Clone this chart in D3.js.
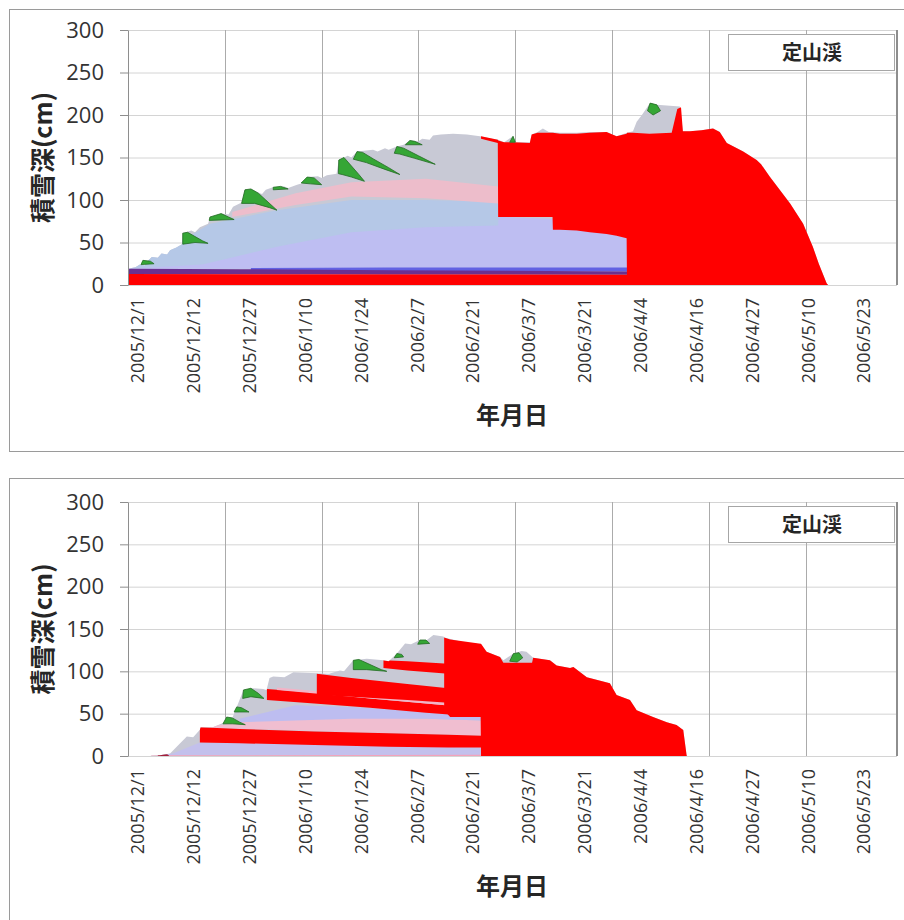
<!DOCTYPE html>
<html>
<head>
<meta charset="utf-8">
<script src="https://cdn.jsdelivr.net/npm/d3@7"></script>
<style>
  body { margin: 0; background: #fff; }
  text { font-family: "Open Sans", "Liberation Sans", sans-serif; }
  .cjk { font-family: "Noto Sans CJK JP", sans-serif; font-weight: bold; }
</style>
</head>
<body>
<script>
// axis labels (category axis, one label every 15 steps)
var dateLabels = ["2005/12/1", "2005/12/12", "2005/12/27", "2006/1/10", "2006/1/24", "2006/2/7",
  "2006/2/21", "2006/3/7", "2006/3/21", "2006/4/4", "2006/4/16", "2006/4/27", "2006/5/10", "2006/5/23"];
var labelSteps = [2.5, 17.5, 32.5, 47.5, 62.5, 77.5, 92.5, 107.5, 122.5, 137.5, 152.5, 167.5, 182.5, 197.5];
var gridSteps = [26, 52, 78, 104, 130, 156, 182];
var depthTicks = [0, 50, 100, 150, 200, 250, 300];
var stationName = "定山渓";

// ---------- upper chart : [step, depth cm] ----------
var upperDepth = [[0,19],[2,21],[3.2,24],[4.5,23],[5,27],[6.4,33],[8,32],[9,37],[10.5,36],[11.3,41],
  [13,44],[14.5,48],[14.7,61],[17,64],[18,62],[19.3,68],[21.5,72],[22,79],[24,78],[25,84],[27,83],
  [28.2,92],[30.5,97],[31.4,112],[33,113],[35.4,108],[36,107],[37,112],[38.9,115],[42,116],[43,114],
  [45.4,118],[47,120],[48.1,127],[51,128],[52,126],[53.4,129],[56,131],[56.6,147],[59,152],[60,150],
  [61.5,157],[65.8,159],[67,157],[69,161],[70,159],[72.2,163],[74,165],[75.7,170],[78,169],[79,172],
  [81,171],[81.9,176],[84,177],[87.3,178],[91,177],[94.5,175],[99.4,171],[101,168],[103.4,175],[104,168],
  [107.9,168],[108.4,177],[110,180],[111.4,184],[113,180],[116,179],[120.5,179],[124,180],[128.5,180],
  [131.2,175],[134,179],[135.6,181],[136.6,192],[138,200],[140.2,214],[142,212],[148.2,210],[149,181],
  [150.9,181],[154,182],[157.1,184],[158.9,180],[160.8,167],[163,162],[165.2,157],[168.8,147],[170,142],
  [172.4,127],[175,112],[177.8,96],[181.3,72],[183.9,45],[185.5,25],[187.6,2],[188,0]];

// layers : [step, bottom cm, top cm]
var upperLightBlue = [[0,19,30],[10,19,40],[22,19,72],[40,19,88],[60,19,100],[80,19,100],[99.4,19,98],[99.5,19,80],[134,19,60]];
var upperLavender = [[0,19,19],[20,19,24],[40,19,45],[60,19,62],[80,19,68],[99.4,19,70],[99.5,19,80],[114,19,78],[134,19,55]];
var upperPink = [[28,80,86],[45,94,108],[60,104,121],[80,102,125],[99.4,96,116]];
var upperBlue = [[33,16.5,20],[70,16.5,20.5],[134,16,20.5]];
var upperPurple = [[0,13,19],[30,13,18.5],[70,12.5,17.5],[134,12,16]];
var upperBaseRed = [[0,0,13],[134,0,12]];
var upperWet = [[94.8,172,175],[99.3,167,171],[99.4,80,170],[101,80,168],[103.4,80,168],[107.9,80,167],
  [108.4,80,177],[110,80,179],[114,80,179],[114.1,65,179],[116,65,178],[120.5,64,178],[124,62,179],
  [128.5,60,180],[131.2,58,175],[133.9,55,178],[134,0,179],[135.6,0,179],[140,0,178],[146,0,179],
  [147.5,0,207],[148.5,0,209],[149,0,181],[150.9,0,181],[154,0,182],[157.1,0,184],[158.9,0,180],
  [160.8,0,167],[163,0,162],[165.2,0,157],[168.8,0,147],[170,0,142],[172.4,0,127],[175,0,112],
  [177.8,0,96],[181.3,0,72],[183.9,0,45],[185.5,0,25],[187.6,0,2],[188,0,0]];
// new snow wedges : outline [step, cm]
var upperNewSnow = [
  [[3.5,24],[4,29],[6,28],[7,25]],
  [[14.7,48],[14.7,61],[16,62],[18,57],[20,52],[21.5,49],[18,50]],
  [[21.8,76],[22,80],[25,84],[27,80],[28.5,77]],
  [[30.5,96],[31.4,112],[33,113],[35,108],[37,100],[40,88],[38,91],[34,96]],
  [[39,112],[39,115],[41,116],[43,113]],
  [[46.5,120],[48.1,127],[50,126],[52,118],[49,119]],
  [[56.5,131],[56.6,147],[58,150],[60,140],[62,130],[63.5,122],[60,127],[57.5,130]],
  [[60.5,148],[61.5,157],[63,156],[66,148],[70,138],[73,130],[69,136],[64,144]],
  [[71.5,155],[72.2,163],[74,161],[78,152],[82.5,142],[77,149],[73,154]],
  [[74.5,165],[75.7,170],[77,169],[79,165]],
  [[102.5,168],[103.4,175],[104,168]],
  [[139.5,205],[140.2,214],[142,212],[143,205],[141,200]]
];

// ---------- lower chart ----------
var lowerDepth = [[6,0],[6.4,0.5],[8.6,1],[11.3,3],[14,15],[15.8,23],[17.5,22],[19.3,31],[19.5,34],[22.8,34],
  [25.5,39],[26.5,46],[28,45],[29.2,58],[31,78],[33.6,80],[36.3,79],[37.2,78],[38,92],[39,94],[42,93],
  [44.4,99],[50.7,97.6],[54,97],[56.9,101],[58,100],[60.5,113],[64.1,115],[68.6,113],[70,112],[72.2,121],
  [74.4,133],[76,132],[78.4,137],[80,136],[82,143],[84.7,141],[84.9,140],[87.8,137],[91,133],[93.6,133],
  [96.3,123],[99.9,117],[100.8,113],[103.5,121],[105.7,124],[107,123],[108.8,116],[113.3,113],[115.1,107],
  [118.7,104],[119.6,105],[123.2,93],[127.6,88],[129.4,86],[131.2,72],[134.8,66],[136.6,54],[141,46],
  [144.7,40],[147.3,36.6],[149.1,30.7],[150,1],[150.1,0]];
var lowerBottomLav = [[8,1,1],[12,1,3],[19.3,1,16],[40,1,15],[60,1,13],[80,1,11],[95,1,10]];
var lowerPinkLine = [[6,0,0.8],[95,0,1.5]];
var lowerPink = [[22,33,35],[40,31,45],[60,28,46],[80,26,44],[95,24,42]];
var lowerLavender = [[30,40,44],[45,42,60],[60,44,58],[80,44,52],[95,42,47]];
var lowerWet1 = [[19.3,16,34],[30,15,32],[50,13,29],[70,11,27],[86,10,25],[95,10,24]];
var lowerWet2 = [[37.3,66,79],[50,62,75],[65,57,68],[80,51,62],[95,46,56]];
var lowerPinkThin = [[40,78,81],[65,68,71],[95,56,59]];
var lowerWet3 = [[50.7,72,97],[60,70,92],[75,66,85],[86,63,80],[95,60,77]];
var lowerWet4 = [[68.6,104,113],[75,101,112],[86,97,109],[95,95,107]];
var lowerDarkBit = [[8,0,1],[9,0,2.5],[10.5,0,2],[11,0,0.5]];
var lowerWet = [[84.9,54,140],[86.5,46,137.5],[94.7,46,132.5],[94.8,0,132.5],[96.3,0,123],[99.9,0,117],
  [100.8,0,110],[108.5,0,110],[108.8,0,116],[113.3,0,113],[115.1,0,107],[118.7,0,104],[119.6,0,105],
  [123.2,0,93],[127.6,0,88],[129.4,0,86],[131.2,0,72],[134.8,0,66],[136.6,0,54],[141,0,46],[144.7,0,40],
  [147.3,0,36.6],[149.1,0,30.7],[150,0,1],[150.1,0,0]];
var lowerNewSnow = [
  [[25.5,38],[26.5,46],[28,45],[30,40],[31.5,37],[28,38]],
  [[28.5,52],[29.2,58],[30.5,57],[32.5,52],[30,52]],
  [[30.8,68],[31,78],[33,80],[35,74],[36.5,68],[33,70]],
  [[60.5,102],[60.5,113],[62,114],[65,108],[68,102],[69.5,100],[64,102]],
  [[71.5,116],[72.2,121],[73.5,120],[74,117]],
  [[77.8,132],[78.4,137],[80,137],[81,133]],
  [[102.5,112],[103.5,121],[105,122],[106,116],[104.5,111]]
];

var panels = [
  { boxY: 9.5, top: 30, bottom: 285, depth: upperDepth, wet: upperWet, snow: upperNewSnow,
    layers: [
      {d: upperLightBlue, c: "#b5c8e7"},
      {d: upperLavender, c: "#bebef2"},
      {d: upperPink, c: "#edbdcb"},
      {d: upperBlue, c: "#6262e2"},
      {d: upperPurple, c: "#6b3090"},
      {d: upperBaseRed, c: "#ff0000"}
    ]},
  { boxY: 478.5, top: 502, bottom: 756, depth: lowerDepth, wet: lowerWet, snow: lowerNewSnow,
    layers: [
      {d: lowerBottomLav, c: "#c3c0ec"},
      {d: lowerPinkLine, c: "#f2a2bb"},
      {d: lowerPink, c: "#f0bed0"},
      {d: lowerLavender, c: "#bdbdf0"},
      {d: lowerWet1, c: "#ff0000"},
      {d: lowerWet2, c: "#ff0000"},
      {d: lowerPinkThin, c: "#f3b3c6"},
      {d: lowerWet3, c: "#ff0000"},
      {d: lowerWet4, c: "#ff0000"},
      {d: lowerDarkBit, c: "#a3203a"}
    ]}
];

var svg = d3.select("body").append("svg")
    .attr("width", 904)
    .attr("height", 920);

var x = d3.scaleLinear().domain([0, 206.5]).range([128, 897]);

panels.forEach(function(p, k) {
  var y = d3.scaleLinear().domain([0, 300]).range([p.bottom, p.top]);
  var g = svg.append("g");

  // outer frame
  g.append("rect")
      .attr("x", 9.5).attr("y", p.boxY)
      .attr("width", 910).attr("height", 442)
      .attr("fill", "#fff").attr("stroke", "#9a9a9a");

  // grid
  g.selectAll("line.hgrid").data(depthTicks).enter().append("line")
      .attr("class", "hgrid")
      .attr("x1", x.range()[0]).attr("x2", x.range()[1])
      .attr("y1", function(d) { return y(d) + 0.5; })
      .attr("y2", function(d) { return y(d) + 0.5; })
      .attr("stroke", "#d4d4d4");
  g.selectAll("line.vgrid").data(gridSteps).enter().append("line")
      .attr("class", "vgrid")
      .attr("x1", function(d) { return Math.round(x(d)) + 0.5; })
      .attr("x2", function(d) { return Math.round(x(d)) + 0.5; })
      .attr("y1", p.top).attr("y2", p.bottom)
      .attr("stroke", "#ababab");

  var band = d3.area()
      .x(function(d) { return x(d[0]); })
      .y0(function(d) { return y(d[1]); })
      .y1(function(d) { return y(d[2]); });
  var surface = d3.area()
      .x(function(d) { return x(d[0]); })
      .y0(y(0))
      .y1(function(d) { return y(d[1]); });
  var outline = d3.line()
      .x(function(d) { return x(d[0]); })
      .y(function(d) { return y(d[1]); });

  // whole snowpack
  g.append("clipPath").attr("id", "pack" + k)
    .append("path").attr("d", surface(p.depth));
  g.append("path")
      .attr("d", surface(p.depth))
      .attr("fill", "#c8c9d5");

  var inner = g.append("g").attr("clip-path", "url(#pack" + k + ")");
  inner.selectAll("path").data(p.layers).enter().append("path")
      .attr("d", function(d) { return band(d.d); })
      .attr("fill", function(d) { return d.c; });

  // wet snow
  g.append("path")
      .attr("d", band(p.wet))
      .attr("fill", "#ff0000");

  // new snow
  g.selectAll("path.snow").data(p.snow).enter().append("path")
      .attr("class", "snow")
      .attr("d", function(d) { return outline(d) + "Z"; })
      .attr("fill", "#35a635")
      .attr("stroke", "#236b23")
      .attr("stroke-width", 0.8);

  // y axis
  var yAxis = g.append("g")
      .attr("transform", "translate(" + x.range()[0] + ",0)")
      .call(d3.axisLeft(y).tickValues(depthTicks).tickSizeInner(8).tickSizeOuter(0).tickPadding(16));
  yAxis.select(".domain").attr("stroke", "#8e8e8e");
  yAxis.selectAll(".tick line").attr("stroke", "#8e8e8e");
  yAxis.selectAll("text")
      .style("font-size", "22px")
      .attr("fill", "#333");

  // x axis
  var xAxis = g.append("g")
      .attr("transform", "translate(0," + p.bottom + ")")
      .call(d3.axisBottom(x).tickValues(labelSteps)
        .tickFormat(function(d, i) { return dateLabels[i]; })
        .tickSize(0));
  xAxis.select(".domain").remove();
  xAxis.selectAll("text")
      .attr("transform", "rotate(-90)")
      .attr("text-anchor", "end")
      .attr("x", -13)
      .attr("y", 0)
      .attr("dy", "0.36em")
      .style("font-size", "18px")
      .attr("fill", "#333");

  // right edge of plot area
  g.append("line")
      .attr("x1", x.range()[1]).attr("x2", x.range()[1])
      .attr("y1", p.top).attr("y2", p.bottom)
      .attr("stroke", "#8e8e8e").attr("stroke-width", 2);

  // titles
  g.append("text")
      .attr("class", "cjk")
      .attr("transform", "translate(43," + (p.top + p.bottom) / 2 + ") rotate(-90)")
      .attr("text-anchor", "middle")
      .attr("dy", "0.35em")
      .style("font-size", "25px")
      .attr("fill", "#262626")
      .text("積雪深(cm)");
  g.append("text")
      .attr("class", "cjk")
      .attr("x", 512)
      .attr("y", p.bottom + 131)
      .attr("text-anchor", "middle")
      .attr("dy", "0.35em")
      .style("font-size", "24px")
      .attr("fill", "#262626")
      .text("年月日");

  // legend
  g.append("rect")
      .attr("x", 728.5).attr("y", p.top + 4.5)
      .attr("width", 166).attr("height", 36)
      .attr("fill", "#fff").attr("stroke", "#a6a6a6");
  g.append("text")
      .attr("class", "cjk")
      .attr("x", 812)
      .attr("y", p.top + 23)
      .attr("text-anchor", "middle")
      .attr("dy", "0.35em")
      .style("font-size", "20px")
      .attr("fill", "#262626")
      .text(stationName);
});
</script>
</body>
</html>
